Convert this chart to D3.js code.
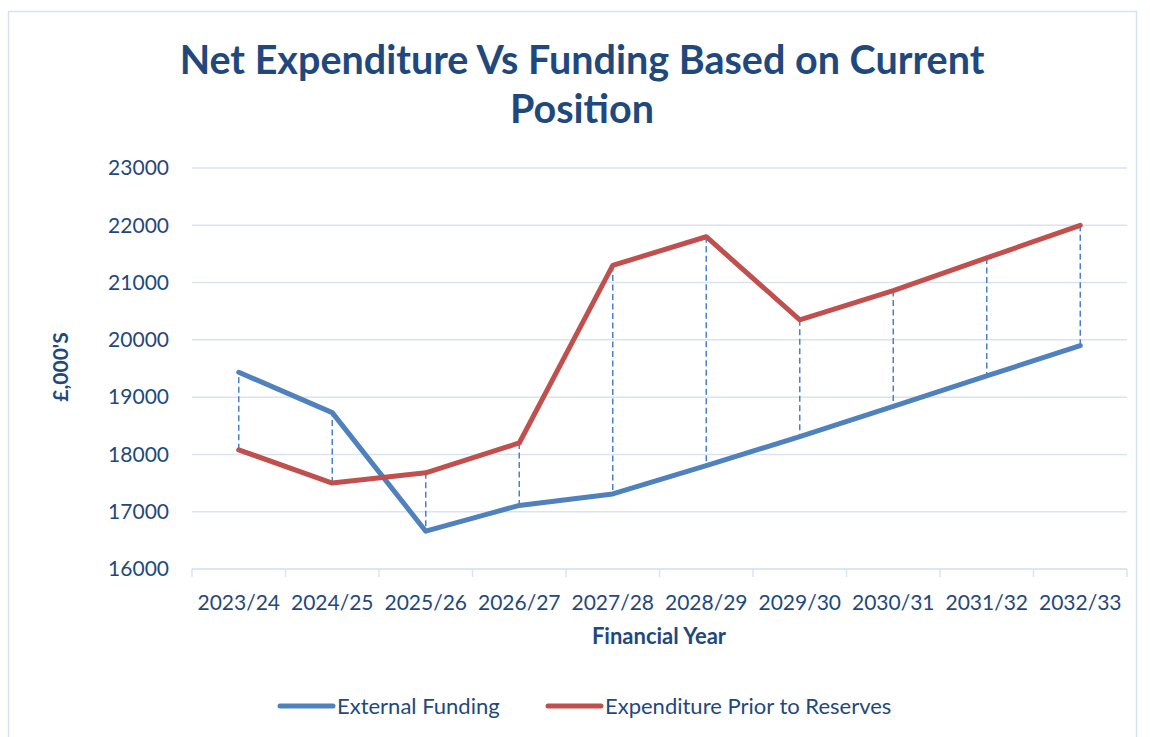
<!DOCTYPE html>
<html>
<head>
<meta charset="utf-8">
<script src="https://cdn.jsdelivr.net/npm/d3@7"></script>
<style>
  body { margin: 0; background: #fff; }
  svg { display: block; font-family: Lato, "Open Sans", sans-serif; }
</style>
</head>
<body>
<div id="chart"></div>
<script>
const years = ["2023/24", "2024/25", "2025/26", "2026/27", "2027/28", "2028/29", "2029/30", "2030/31", "2031/32", "2032/33"];
const externalFunding = [19435, 18730, 16660, 17110, 17310, 17805, 18310, 18840, 19370, 19900];
const expenditure = [18080, 17500, 17680, 18200, 21300, 21800, 20350, 20860, 21430, 22000];
const yTicks = [16000, 17000, 18000, 19000, 20000, 21000, 22000, 23000];
const seriesNames = ["External Funding", "Expenditure Prior to Reserves"];

const dim = {
  sirina: 1150,
  visina: 737,
  margine: { top: 168, right: 23, bottom: 168, left: 192 },
};
dim.grSirina = dim.sirina - dim.margine.left - dim.margine.right;
dim.grVisina = 569 - dim.margine.top;

const textColor = "#1F497D";
const gridColor = "#D9E3F2";
const blue = "#4F81BD";
const red = "#C0504D";

const svg = d3.select("#chart")
  .append("svg")
  .attr("width", dim.sirina)
  .attr("height", dim.visina);

// okvir grafa
svg.append("rect")
  .attr("x", 8.5).attr("y", 11.5)
  .attr("width", 1128).attr("height", 740)
  .attr("fill", "none")
  .attr("stroke", "#D6E2F3")
  .attr("stroke-width", 1.5);

// naslov
const title = svg.append("text")
  .attr("text-anchor", "middle")
  .attr("fill", textColor)
  .style("font-size", "39.5px")
  .style("font-weight", "bold");
title.append("tspan").attr("x", 582).attr("y", 74).text("Net Expenditure Vs Funding Based on Current");
title.append("tspan").attr("x", 582).attr("y", 123).text("Position");

const g = svg.append("g")
  .attr("transform", `translate(${dim.margine.left}, ${dim.margine.top})`);

const x = d3.scaleBand()
  .domain(years)
  .range([0, dim.grSirina])
  .padding(0);

const y = d3.scaleLinear()
  .domain([16000, 23000])
  .range([dim.grVisina, 0]);

const cx = d => x(d) + x.bandwidth() / 2;

// mreza
g.append("g")
  .selectAll("line")
  .data(yTicks)
  .join("line")
  .attr("x1", 0).attr("x2", dim.grSirina)
  .attr("y1", d => y(d)).attr("y2", d => y(d))
  .attr("stroke", gridColor)
  .attr("stroke-width", 1.5);

// y os
const yAxis = g.append("g")
  .call(d3.axisLeft(y).tickValues(yTicks).tickSize(0).tickPadding(23).tickFormat(d3.format("d")));
yAxis.select(".domain").remove();
yAxis.selectAll("text")
  .attr("fill", textColor)
  .style("font-size", "21px")
  .style("font-family", "Lato, sans-serif");

// x os
const xAxis = g.append("g")
  .attr("transform", `translate(0, ${dim.grVisina})`);
xAxis.append("line")
  .attr("x1", 0).attr("x2", dim.grSirina)
  .attr("stroke", gridColor).attr("stroke-width", 1.5);
xAxis.selectAll(".tickmark")
  .data(years.concat(["end"]))
  .join("line")
  .attr("class", "tickmark")
  .attr("x1", (d, i) => i * x.step()).attr("x2", (d, i) => i * x.step())
  .attr("y1", 0).attr("y2", 8)
  .attr("stroke", gridColor).attr("stroke-width", 1.5);
xAxis.selectAll(".lbl")
  .data(years)
  .join("text")
  .attr("class", "lbl")
  .attr("x", d => cx(d))
  .attr("y", 41)
  .attr("text-anchor", "middle")
  .attr("fill", textColor)
  .style("font-size", "21px")
  .text(d => d);

// naslovi osi
svg.append("text")
  .attr("x", 659).attr("y", 644)
  .attr("text-anchor", "middle")
  .attr("fill", textColor)
  .style("font-size", "22px")
  .style("font-weight", "bold")
  .text("Financial Year");

svg.append("text")
  .attr("transform", "translate(68, 367) rotate(-90)")
  .attr("text-anchor", "middle")
  .attr("fill", textColor)
  .style("font-size", "21px")
  .style("font-weight", "bold")
  .text("£,000'S");

// isprekidane linije izmedju serija
g.append("g")
  .selectAll("line")
  .data(years)
  .join("line")
  .attr("x1", d => cx(d)).attr("x2", d => cx(d))
  .attr("y1", (d, i) => y(expenditure[i]))
  .attr("y2", (d, i) => y(externalFunding[i]))
  .attr("stroke", "#4A7FD0")
  .attr("stroke-width", 1.5)
  .attr("stroke-dasharray", "6,3.5");

// linije serija
const line = d3.line()
  .x((d, i) => cx(years[i]))
  .y(d => y(d));

[[externalFunding, blue], [expenditure, red]].forEach(([vals, col]) => {
  g.append("path")
    .datum(vals)
    .attr("d", line)
    .attr("fill", "none")
    .attr("stroke", col)
    .attr("stroke-width", 5)
    .attr("stroke-linecap", "round")
    .attr("stroke-linejoin", "round");
});

// legenda
const legend = svg.append("g").attr("transform", "translate(0, 706)");
const legendItems = [
  { name: seriesNames[0], color: blue, x0: 280 },
  { name: seriesNames[1], color: red, x0: 548 },
];
legendItems.forEach(it => {
  legend.append("line")
    .attr("x1", it.x0).attr("x2", it.x0 + 53)
    .attr("stroke", it.color)
    .attr("stroke-width", 5)
    .attr("stroke-linecap", "round");
  legend.append("text")
    .attr("x", it.x0 + 57)
    .attr("y", 0)
    .attr("dy", "0.35em")
    .attr("fill", textColor)
    .style("font-size", "22px")
    .text(it.name);
});
</script>
</body>
</html>
